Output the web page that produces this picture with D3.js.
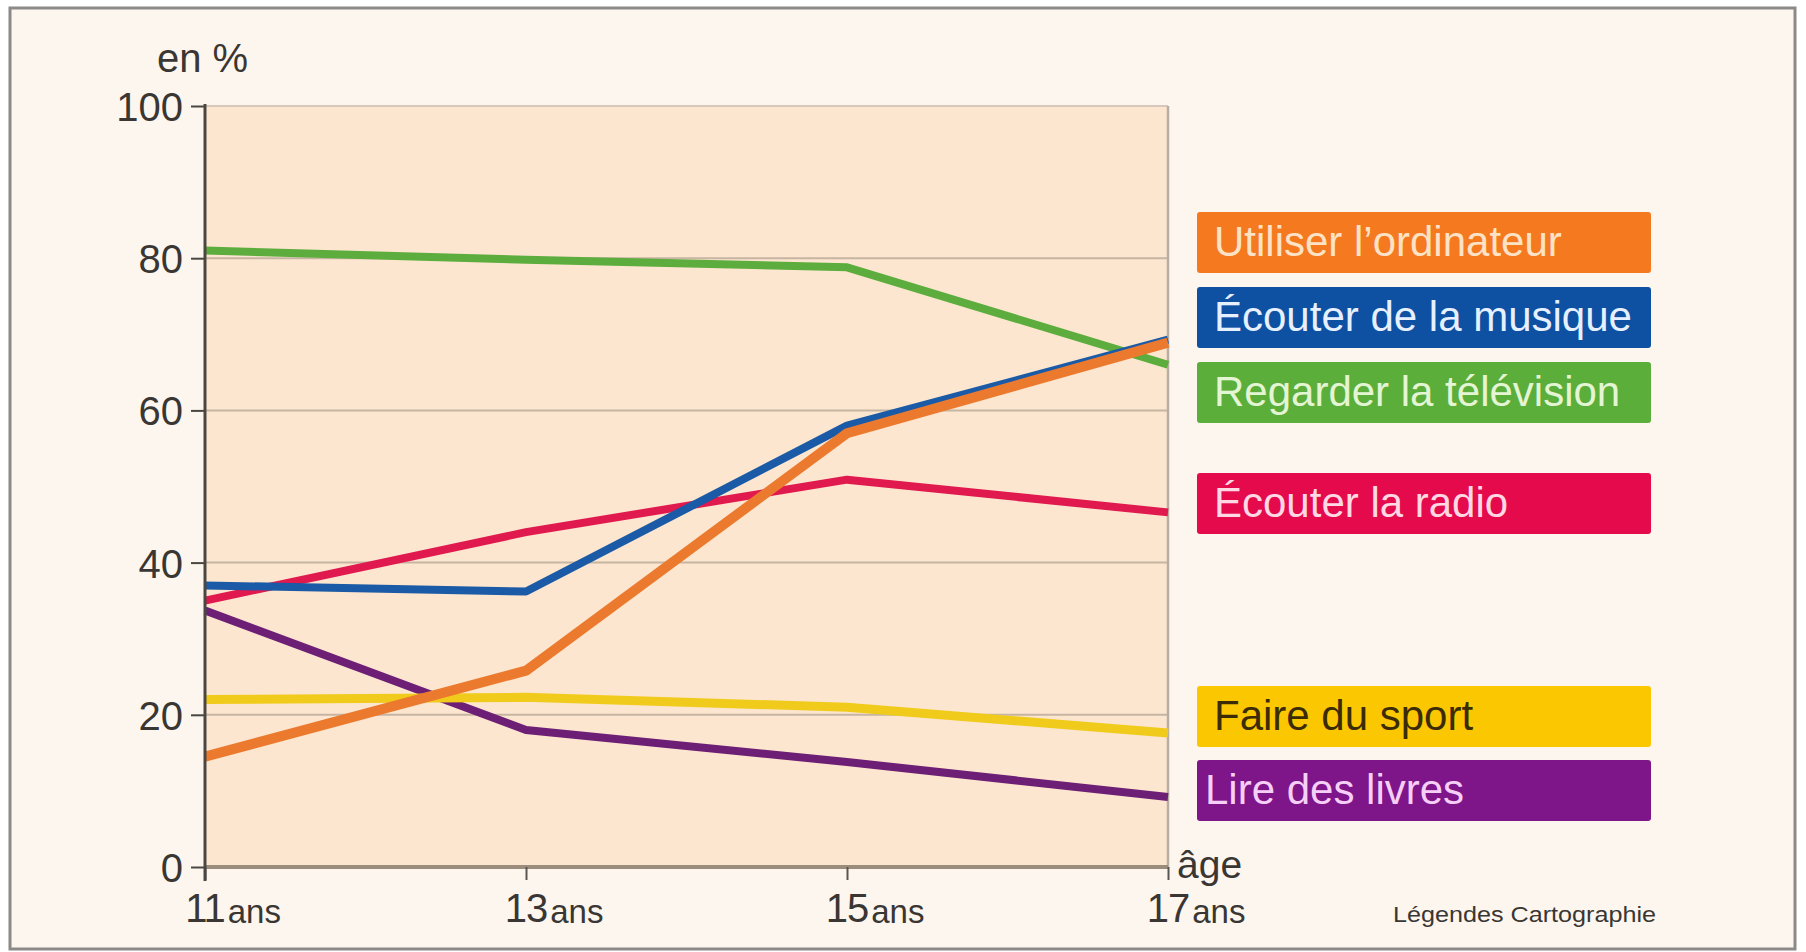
<!DOCTYPE html>
<html>
<head>
<meta charset="utf-8">
<script src="https://cdn.jsdelivr.net/npm/d3@7"></script>
<style>
  html, body { margin: 0; padding: 0; background: #ffffff; }
  svg { display: block; }
  text { font-family: "Liberation Sans", Arial, Helvetica, sans-serif; }
</style>
</head>
<body>
<svg id="chart" width="1806" height="952"></svg>
<script>
// ---- data ----
const ages = [11, 13, 15, 17];
const ageLabels = ["11", "13", "15", "17"];
const yTicks = [0, 20, 40, 60, 80, 100];

const seriesNames = [
  "Lire des livres",
  "Faire du sport",
  "Écouter la radio",
  "Regarder la télévision",
  "Écouter de la musique",
  "Utiliser l’ordinateur"
];
const livres     = [33.7, 18.0, 13.8, 9.2];
const sport      = [22.0, 22.3, 21.0, 17.6];
const radio      = [35.0, 44.0, 50.9, 46.6];
const television = [81.0, 79.8, 78.8, 66.0];
const musique    = [37.0, 36.2, 58.0, 69.3];
const ordinateur = [14.5, 25.8, 57.0, 68.9];
const seriesValues = [livres, sport, radio, television, musique, ordinateur];

const lineColors = ["#6d1f76", "#f1cb1c", "#e0194f", "#5cad3e", "#1a5aa6", "#ec7a2e"];
const boxColors  = ["#7e1588", "#fbc700", "#e40a4c", "#5cae3b", "#0e51a3", "#f4791f"];
const boxText    = ["#f6cff8", "#3b2c05", "#ffd8e3", "#e4f5d4", "#e6f0ff", "#fde2c6"];

// legend order (top to bottom) and slot tops
const legendOrder = [5, 4, 3, 2, 1, 0];
const legendTops  = [212, 287, 362, 473, 686, 760];

// ---- layout ----
const svg = d3.select("#chart");
const L = 205, R = 1168, T = 106, B = 867;

const x = d3.scalePoint().domain(ages).range([L, R]);
const y = d3.scaleLinear().domain([0, 100]).range([B, T]);

// outer frame
svg.append("rect").attr("x", 10).attr("y", 8).attr("width", 1785).attr("height", 941)
  .attr("fill", "#fdf6ef").attr("stroke", "#8c8a88").attr("stroke-width", 3);

// plot background
svg.append("rect").attr("x", L).attr("y", T).attr("width", R - L).attr("height", B - T)
  .attr("fill", "#fce6cf");

// gridlines
svg.append("g").selectAll("line").data([20, 40, 60, 80]).join("line")
  .attr("x1", L).attr("x2", R).attr("y1", d => y(d)).attr("y2", d => y(d))
  .attr("stroke", "#c6b5a3").attr("stroke-width", 2);
svg.append("line").attr("x1", L).attr("x2", R).attr("y1", y(100)).attr("y2", y(100))
  .attr("stroke", "#d6c9bb").attr("stroke-width", 2);
svg.append("line").attr("x1", R).attr("x2", R).attr("y1", y(100)).attr("y2", y(0))
  .attr("stroke", "#b9aea3").attr("stroke-width", 2.5);

// lines
const line = d3.line().x((d, i) => x(ages[i])).y(d => y(d)).curve(d3.curveLinear);
const widths = [8, 9, 8, 8, 8, 10];
svg.append("g").selectAll("path").data(seriesValues).join("path")
  .attr("d", d => line(d))
  .attr("fill", "none")
  .attr("stroke", (d, i) => lineColors[i])
  .attr("stroke-width", (d, i) => widths[i])
  .attr("stroke-linejoin", "round")
  .attr("stroke-linecap", "butt");

// x axis base line
svg.append("line").attr("x1", L).attr("x2", R).attr("y1", y(0)).attr("y2", y(0))
  .attr("stroke", "#9c8c7b").attr("stroke-width", 4);

// x axis ticks
const xAxis = d3.axisBottom(x).tickValues(ages).tickSize(13).tickFormat("");
const gx = svg.append("g").attr("transform", `translate(0,${B})`).call(xAxis);
gx.select(".domain").remove();
gx.selectAll(".tick line").attr("stroke", "#5a5550").attr("stroke-width", 2);

// x labels
const xl = svg.append("g");
ages.forEach((a, i) => {
  const t = xl.append("text").attr("x", x(a)).attr("y", 922)
    .attr("text-anchor", "middle").attr("font-size", 40).attr("fill", "#3a3633")
    .attr("letter-spacing", -1)
    .text(ageLabels[i]);
  const w = t.node().getComputedTextLength();
  xl.append("text").attr("x", x(a) + w / 2 + 3).attr("y", 923)
    .attr("font-size", 33).attr("fill", "#3a3633").text("ans");
});

// y axis
const yAxis = d3.axisLeft(y).tickValues(yTicks).tickSize(14).tickPadding(8).tickFormat(d3.format("d"));
const gy = svg.append("g").attr("transform", `translate(${L},0)`).call(yAxis);
gy.select(".domain").remove();
gy.selectAll(".tick line").attr("stroke", "#4a4642").attr("stroke-width", 2);
gy.selectAll(".tick text").attr("font-size", 40).attr("fill", "#3a3633")
  .attr("font-family", "Liberation Sans, Arial, sans-serif").attr("dy", "0.36em");
svg.append("line").attr("x1", L).attr("x2", L).attr("y1", y(100) - 2).attr("y2", B + 14)
  .attr("stroke", "#4a4642").attr("stroke-width", 3);

// axis titles
svg.append("text").attr("x", 157).attr("y", 72).attr("font-size", 40).attr("fill", "#3a3633").text("en %");
svg.append("text").attr("x", 1177).attr("y", 878).attr("font-size", 39).attr("fill", "#3a3633").text("âge");

// legend
const lg = svg.append("g");
legendOrder.forEach((si, k) => {
  const top = legendTops[k];
  lg.append("rect").attr("x", 1197).attr("y", top).attr("width", 454).attr("height", 61)
    .attr("rx", 3).attr("fill", boxColors[si]);
  lg.append("text").attr("x", si === 0 ? 1205 : 1214).attr("y", top + 44)
    .attr("font-size", 42).attr("fill", boxText[si]).text(seriesNames[si]);
});

// credit
svg.append("text").attr("x", 1393).attr("y", 922).attr("font-size", 22)
  .attr("textLength", 263).attr("lengthAdjust", "spacingAndGlyphs")
  .attr("fill", "#3a3633").text("Légendes Cartographie");
</script>
</body>
</html>
